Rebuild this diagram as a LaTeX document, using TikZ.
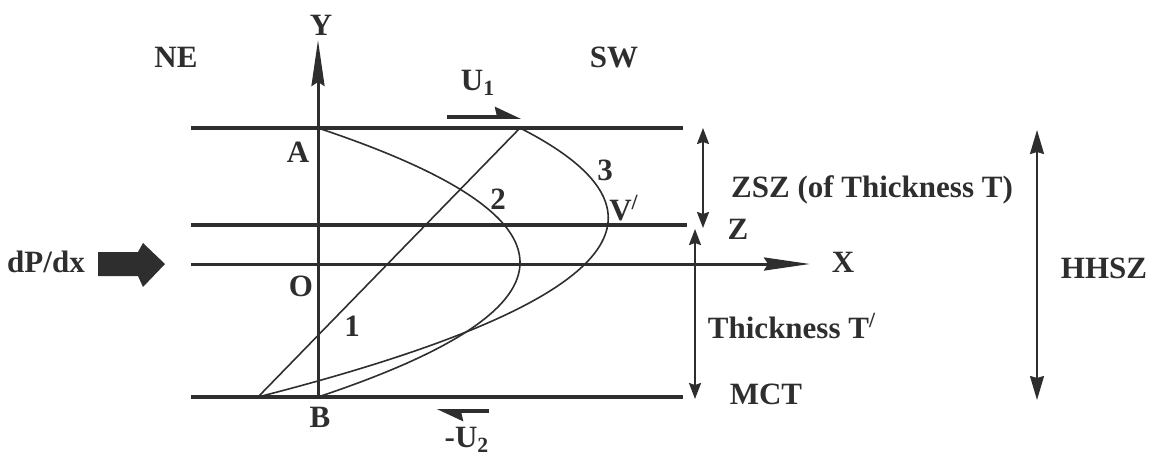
\documentclass[tikz,border=0pt]{standalone}
\usepackage{fontspec}
\setmainfont{Liberation Serif}
\usetikzlibrary{arrows.meta,positioning}

\colorlet{ink}{black!82}
\tikzset{
  lbl/.style={font=\bfseries\fontsize{15.5}{18}\selectfont, text=ink, inner sep=1pt},
  plate/.style={line width=1.6pt, draw=ink},
  axis/.style={line width=1.5pt, draw=ink, -{Stealth[length=23pt,width=6.5pt,inset=2pt]}},
  profile/.style={line width=0.8pt, draw=ink},
  span/.style={line width=1pt, draw=ink, {Stealth[length=8pt,width=6pt,inset=1pt]}-{Stealth[length=8pt,width=6pt,inset=1pt]}},
  shear/.style={line width=1.8pt, draw=ink, -{Stealth[harpoon,length=11pt,width=10pt,inset=1pt]}},
}

\begin{document}
\begin{tikzpicture}[x=0.5pt,y=-0.5pt]
\useasboundingbox (0,0) rectangle (1155,461);

% plates and axes
\coordinate (a) at (318,128);
\coordinate (o) at (318,264);
\coordinate (b) at (318,397);
\coordinate (ytip) at (318,40);
\coordinate (xtip) at (810,264);
\coordinate (xl) at (191,264);
\draw[plate] (191,128) -- (683,128);
\draw[plate] (191,225) -- (687,225);
\draw[plate] (191,397) -- (683,397);
\draw[axis] (xl) -- (xtip);
\draw[axis] (b) -- (ytip);

% velocity profiles
\coordinate (top1) at (520,128);
\coordinate (bot1) at (258,397);
\draw[profile] (bot1) -- (top1);
\draw[profile] plot[domain=0:1, samples=60, smooth] ({318+808*\x*(1-\x)}, {128+269*\x});
\draw[profile] plot[domain=0:1, samples=60, smooth] ({520-262*\x+790*\x*(1-\x)}, {128+269*\x});

% labels
\node[lbl] (ylab) at (321,25) {Y};
\node[lbl] (xlab) at (843,262) {X};
\node[lbl] (ne) at (176,57) {NE};
\node[lbl] (sw) at (614,57) {SW};
\node[lbl] (alab) at (298,152) {A};
\node[lbl] (olab) at (301,286) {O};
\node[lbl] (blab) at (320,417) {B};
\node[lbl] (one) at (352,326) {1};
\node[lbl] (two) at (498,199) {2};
\node[lbl] (three) at (605,170) {3};
\node[lbl] (vmax) at (624,208) {V\textsuperscript{/}};
\node[lbl] (zlab) at (738,229) {Z};
\node[lbl] (zsz) at (872,190) {ZSZ (of Thickness T)};
\node[lbl] (thick) at (792,326) {Thickness T\textsuperscript{/}};
\node[lbl] (mct) at (766,394) {MCT};
\node[lbl] (hhsz) at (1104,268) {HHSZ};
\node[lbl] (dpdx) at (46,262) {dP/dx};

% pressure gradient push
\fill[ink] (98,252) -- (138,252) -- (143,243) -- (165,264) -- (143,287) -- (138,276) -- (98,276) -- cycle;

% plate motion
\node[lbl] (u1) at (478,83) {U\textsubscript{1}};
\coordinate (u1s) at (447,117);
\coordinate (u1e) at (521,117);
\draw[shear] (u1s) -- (u1e);
\node[lbl] (u2) at (467,440) {-U\textsubscript{2}};
\coordinate (u2s) at (489,411);
\coordinate (u2e) at (437,411);
\draw[shear] (u2s) -- (u2e);

% thickness spans
\coordinate (zsztop) at (703,128);
\coordinate (zszbot) at (703,228);
\draw[span] (zsztop) -- (zszbot);
\coordinate (ttop) at (695,229);
\coordinate (tbot) at (695,399);
\draw[span] (ttop) -- (tbot);
\coordinate (htop) at (1037,130);
\coordinate (hbot) at (1037,400);
\draw[span, line width=0.9pt, {Stealth[length=12pt,width=7pt,inset=1pt]}-{Stealth[length=12pt,width=7pt,inset=1pt]}] (htop) -- (hbot);
\end{tikzpicture}
\end{document}
